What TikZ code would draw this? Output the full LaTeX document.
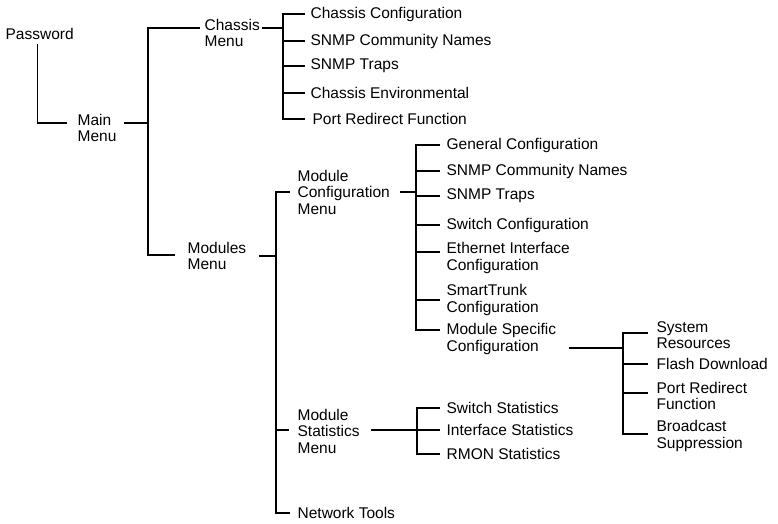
\documentclass[tikz,border=0pt]{standalone}
\usepackage{fontspec}
\setmainfont{Liberation Sans}
\tikzset{
    menu/.style={anchor=west, align=left, inner sep=0pt,
        font=\fontsize{15.5}{16.5}\selectfont},
    branch/.style={line width=1.3pt},
}

\begin{document}
\begin{tikzpicture}[x=1pt, y=-1pt, branch]
            \useasboundingbox (0,0) rectangle (778,523);
            % top levels
            \node[menu] (password) at (5,34) {Password};
            \node[menu] (mainmenu) at (77,128) {Main\\Menu};
            \node[menu] (chassis) at (204,33) {Chassis\\Menu};
            \node[menu] (modules) at (187,256) {Modules\\Menu};
            % chassis menu
            \node[menu] (chcfg) at (310,14) {Chassis Configuration};
            \node[menu] (chcomm) at (310,41) {SNMP Community Names};
            \node[menu] (chtraps) at (310,66) {SNMP Traps};
            \node[menu] (chenv) at (310,93) {Chassis Environmental};
            \node[menu] (chport) at (312,119) {Port Redirect Function};
            % modules menu
            \node[menu] (modcfg) at (297,192) {Module\\Configuration\\Menu};
            \node[menu] (modstat) at (297,431) {Module\\Statistics\\Menu};
            \node[menu] (nettools) at (297,513) {Network Tools};
            % module configuration menu
            \node[menu] (gencfg) at (446,145) {General Configuration};
            \node[menu] (cfgcomm) at (446,171) {SNMP Community Names};
            \node[menu] (cfgtraps) at (446,196) {SNMP Traps};
            \node[menu] (swcfg) at (446,225) {Switch Configuration};
            \node[menu] (ethif) at (446,258) {Ethernet Interface\\Configuration};
            \node[menu] (smtrunk) at (446,300) {SmartTrunk\\Configuration};
            \node[menu] (modspec) at (446,339) {Module Specific\\Configuration};
            % module specific configuration
            \node[menu] (sysres) at (656,335) {System\\Resources};
            \node[menu] (flash) at (656,364) {Flash Download};
            \node[menu] (portred) at (656,396) {Port Redirect\\Function};
            \node[menu] (bcast) at (656,436) {Broadcast\\Suppression};
            % module statistics menu
            \node[menu] (swstat) at (446,408) {Switch Statistics};
            \node[menu] (ifstat) at (446,430) {Interface Statistics};
            \node[menu] (rmon) at (446,454) {RMON Statistics};

            % branch points
            \coordinate (mainbus) at (148,123);
            \coordinate (chbus) at (283,28);
            \coordinate (modbus) at (276,256);
            \coordinate (cfgbus) at (416,192);
            \coordinate (specbus) at (623,348);
            \coordinate (statbus) at (417,430);

            \draw ([xshift=-2pt, yshift=-3.5pt]password.south)
                |- ([xshift=-10pt, yshift=5pt]mainmenu.west);
            \draw ([xshift=7pt, yshift=5pt]mainmenu.east) -- (mainbus);
            \draw (mainbus) |- ([xshift=-4pt, yshift=5pt]chassis.west);
            \draw (mainbus) |- ([xshift=-12pt, yshift=1pt]modules.west);

            \draw ([xshift=2pt, yshift=5pt]chassis.east) -- (chbus);
            \draw (chbus) |- ([xshift=-5pt]chcfg.west);
            \draw (chbus) |- ([xshift=-5pt]chcomm.west);
            \draw (chbus) |- ([xshift=-5pt]chtraps.west);
            \draw (chbus) |- ([xshift=-5pt]chenv.west);
            \draw (chbus) |- ([xshift=-7pt]chport.west);

            \draw ([xshift=12pt]modules.east) -- (modbus);
            \draw (modbus) |- ([xshift=-7pt]modcfg.west);
            \draw (modbus) |- ([xshift=-8pt, yshift=1pt]modstat.west);
            \draw (modbus) |- ([xshift=-7pt]nettools.west);

            \draw ([xshift=9pt]modcfg.east) -- (cfgbus);
            \draw (cfgbus) |- ([xshift=-6pt]gencfg.west);
            \draw (cfgbus) |- ([xshift=-6pt]cfgcomm.west);
            \draw (cfgbus) |- ([xshift=-6pt]cfgtraps.west);
            \draw (cfgbus) |- ([xshift=-6pt]swcfg.west);
            \draw (cfgbus) |- ([xshift=-6pt, yshift=6pt]ethif.west);
            \draw (cfgbus) |- ([xshift=-6pt]smtrunk.west);
            \draw (cfgbus) |- ([xshift=-6pt, yshift=9pt]modspec.west);

            \draw ([xshift=12pt, yshift=-9pt]modspec.east) -- (specbus);
            \draw (specbus) |- ([xshift=-8pt, yshift=2pt]sysres.west);
            \draw (specbus) |- ([xshift=-8pt]flash.west);
            \draw (specbus) |- ([xshift=-8pt, yshift=3pt]portred.west);
            \draw (specbus) |- ([xshift=-8pt, yshift=2pt]bcast.west);

            \draw ([xshift=11pt, yshift=1pt]modstat.east) -- (statbus);
            \draw (statbus) |- ([xshift=-6pt]swstat.west);
            \draw (statbus) |- ([xshift=-6pt]ifstat.west);
            \draw (statbus) |- ([xshift=-6pt]rmon.west);
        \end{tikzpicture}
\end{document}
